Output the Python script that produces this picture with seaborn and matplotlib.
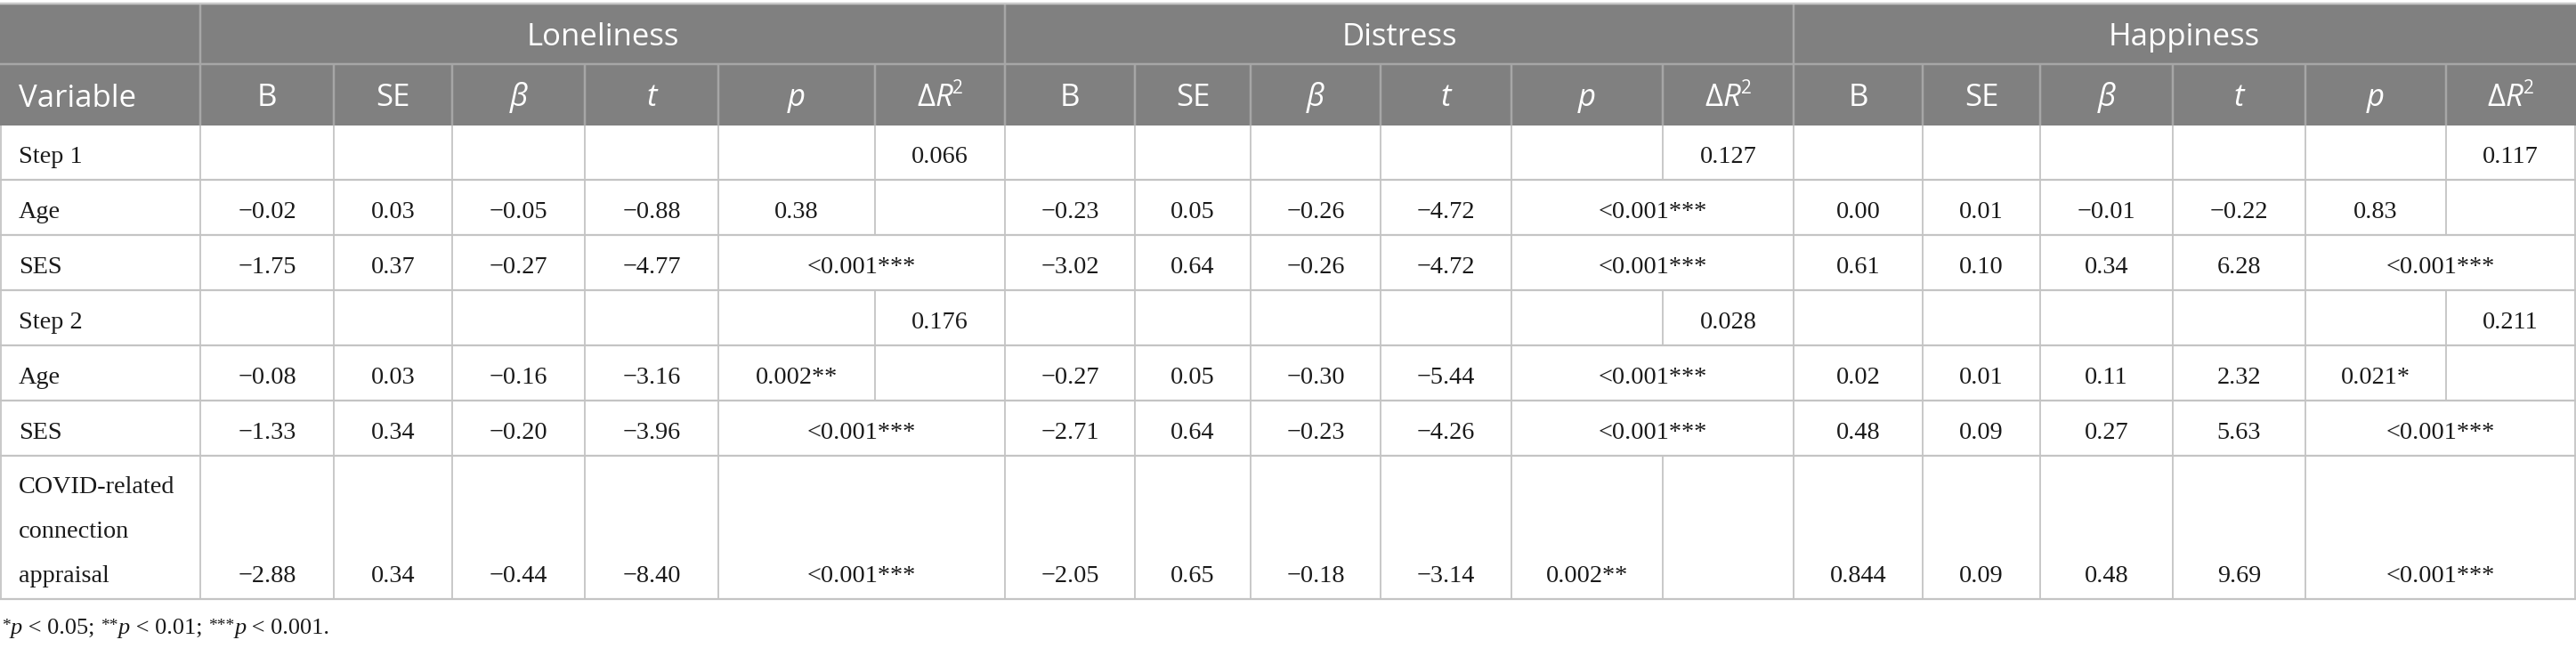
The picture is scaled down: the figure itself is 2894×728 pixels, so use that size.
import matplotlib
matplotlib.use("Agg")
import matplotlib.pyplot as plt
import seaborn as sns
import pandas as pd

# ---- table content ----
groups = ["Loneliness", "Distress", "Happiness"]
stat_headers = ["B", "SE", "β", "t", "p", "ΔR2"]
variables = ["Step 1", "Age", "SES", "Step 2", "Age", "SES",
             "COVID-related\nconnection\nappraisal"]

lone_b = ["", "−0.02", "−1.75", "", "−0.08", "−1.33", "−2.88"]
lone_se = ["", "0.03", "0.37", "", "0.03", "0.34", "0.34"]
lone_beta = ["", "−0.05", "−0.27", "", "−0.16", "−0.20", "−0.44"]
lone_t = ["", "−0.88", "−4.77", "", "−3.16", "−3.96", "−8.40"]
lone_p = ["", "0.38", "<0.001***", "", "0.002**", "<0.001***", "<0.001***"]
lone_dr2 = ["0.066", "", "", "0.176", "", "", ""]

dist_b = ["", "−0.23", "−3.02", "", "−0.27", "−2.71", "−2.05"]
dist_se = ["", "0.05", "0.64", "", "0.05", "0.64", "0.65"]
dist_beta = ["", "−0.26", "−0.26", "", "−0.30", "−0.23", "−0.18"]
dist_t = ["", "−4.72", "−4.72", "", "−5.44", "−4.26", "−3.14"]
dist_p = ["", "<0.001***", "<0.001***", "", "<0.001***", "<0.001***", "0.002**"]
dist_dr2 = ["0.127", "", "", "0.028", "", "", ""]

happ_b = ["", "0.00", "0.61", "", "0.02", "0.48", "0.844"]
happ_se = ["", "0.01", "0.10", "", "0.01", "0.09", "0.09"]
happ_beta = ["", "−0.01", "0.34", "", "0.11", "0.27", "0.48"]
happ_t = ["", "−0.22", "6.28", "", "2.32", "5.63", "9.69"]
happ_p = ["", "0.83", "<0.001***", "", "0.021*", "<0.001***", "<0.001***"]
happ_dr2 = ["0.117", "", "", "0.211", "", "", ""]

footnote = [("*", "sup"), ("p", "it"), (" < 0.05; ", "rm"),
            ("**", "sup"), ("p", "it"), (" < 0.01; ", "rm"),
            ("***", "sup"), ("p", "it"), (" < 0.001.", "rm")]

# ---- layout (pixels) ----
W, H = 2894, 728
var_edge = [0, 225]
group_edges = [[225, 375, 508, 657, 807, 983, 1129],
               [1129, 1275, 1405, 1551, 1698, 1868, 2015],
               [2015, 2160, 2292, 2441, 2590, 2748, 2893]]
head_top, head_mid, head_bot = 4, 72, 141
row_edges = [141, 202, 264, 326, 388, 450, 512, 673]

HEAD_BG = "#808080"
HEAD_LINE = "#a6a6a6"
BODY_LINE = "#c4c4c4"
TXT = "#1a1a1a"
SANS = "Open Sans"
SERIF = "Liberation Serif"
HEAD_FS = 25
BODY_FS = 20.3

cols = {"B": 0, "SE": 1, "β": 2, "t": 3, "p": 4, "ΔR2": 5}
series = {
    "Loneliness": [lone_b, lone_se, lone_beta, lone_t, lone_p, lone_dr2],
    "Distress": [dist_b, dist_se, dist_beta, dist_t, dist_p, dist_dr2],
    "Happiness": [happ_b, happ_se, happ_beta, happ_t, happ_p, happ_dr2],
}
records = []
for g in groups:
    for s, vals in zip(stat_headers, series[g]):
        for i, v in enumerate(vals):
            records.append({"group": g, "stat": s, "row": i, "value": v})
df = pd.DataFrame(records)

sns.set_theme(style="white")
plt.rcParams["font.family"] = [SERIF, "DejaVu Sans"]

fig = plt.figure(figsize=(W / 100, H / 100), dpi=100)
ax = fig.add_axes([0, 0, 1, 1])
ax.set_xlim(0, W)
ax.set_ylim(H, 0)
ax.axis("off")
renderer = fig.canvas.get_renderer()


def px(w):
    return w * 0.72


def pieces_text(x, y, pieces, align="left"):
    """pieces: list of (text, kwargs, dy); drawn side by side on baseline y."""
    arts = []
    for txt, kw, dy in pieces:
        a = ax.text(0, y - dy, txt, va="baseline", ha="left", **kw)
        arts.append(a)
    widths = [a.get_window_extent(renderer).width for a in arts]
    total = sum(widths)
    cx = x - total / 2 if align == "center" else x
    for a, w in zip(arts, widths):
        a.set_x(cx)
        cx += w


# ---- header ----
ax.fill_between([0, W], head_top, head_bot, color=HEAD_BG, lw=0, zorder=0)
ax.hlines(head_top, 0, W, color="#c8c8c8", lw=px(2.5), zorder=3)
ax.hlines(head_mid, 0, W, color=HEAD_LINE, lw=px(2.5), zorder=2)
ax.vlines([var_edge[1]] + [e[-1] for e in group_edges[:-1]], head_top, head_mid,
          color=HEAD_LINE, lw=px(2.5), zorder=2)
inner = sorted(set(x for e in group_edges for x in e[:-1]))
ax.vlines(inner, head_mid, head_bot, color=HEAD_LINE, lw=px(2.5), zorder=2)

hkw = dict(color="white", fontsize=HEAD_FS, family=[SANS, "DejaVu Sans"])
for g, e in zip(groups, group_edges):
    ax.text((e[0] + e[-1]) / 2, (head_top + head_mid) / 2, g,
            ha="center", va="center_baseline", **hkw)
    for s, j in cols.items():
        cx = (e[j] + e[j + 1]) / 2
        base = head_bot - 22
        if s in ("B", "SE"):
            pieces_text(cx, base, [(s, hkw, 0)], align="center")
        elif s == "ΔR2":
            pieces_text(cx, base, [("Δ", hkw, 0),
                                   ("R", dict(hkw, style="italic"), 0),
                                   ("2", dict(hkw, fontsize=HEAD_FS * 0.6), 14)],
                        align="center")
        else:
            pieces_text(cx, base, [(s, dict(hkw, style="italic"), 0)], align="center")
ax.text(21, (head_mid + head_bot) / 2, "Variable", ha="left",
        va="center_baseline", **hkw)

# ---- body ----
bkw = dict(color=TXT, fontsize=BODY_FS, family=[SERIF, "DejaVu Sans"])
ax.hlines(row_edges[1:], 0, W, color=BODY_LINE, lw=px(2.2), zorder=2)
for i in range(len(variables)):
    top, bot = row_edges[i], row_edges[i + 1]
    base = bot - 19
    lines = variables[i].split("\n")
    for k, ln in enumerate(reversed(lines)):
        ax.text(21, base - k * 50, ln, ha="left", va="baseline", **bkw)
    edges_here = [0, var_edge[1]]
    for g, e in zip(groups, group_edges):
        sub = df[(df.group == g) & (df.row == i)].set_index("stat")["value"]
        merged = sub["p"].startswith("<")
        for s, j in cols.items():
            v = sub[s]
            if not v:
                continue
            if s == "p" and merged:
                cx = (e[4] + e[6]) / 2
            else:
                cx = (e[j] + e[j + 1]) / 2
            ax.text(cx, base, v, ha="center", va="baseline", **bkw)
        for j, x in enumerate(e):
            if merged and j == 5:
                continue
            edges_here.append(x)
    for x in sorted(set(edges_here)):
        xx = min(max(x, 1), W - 1)
        ax.vlines(xx, top, bot, color=BODY_LINE, lw=px(1.8), zorder=2)

# ---- footnote ----
fkw = dict(color=TXT, fontsize=19, family=[SERIF, "DejaVu Sans"])
fn = []
for txt, kind in footnote:
    if kind == "sup":
        fn.append((txt, dict(fkw, fontsize=14), 4))
    elif kind == "it":
        fn.append((txt, dict(fkw, style="italic"), 0))
    else:
        fn.append((txt, fkw, 0))
pieces_text(2, 712, fn)

fig.savefig("out.png", dpi=100, facecolor="white")
